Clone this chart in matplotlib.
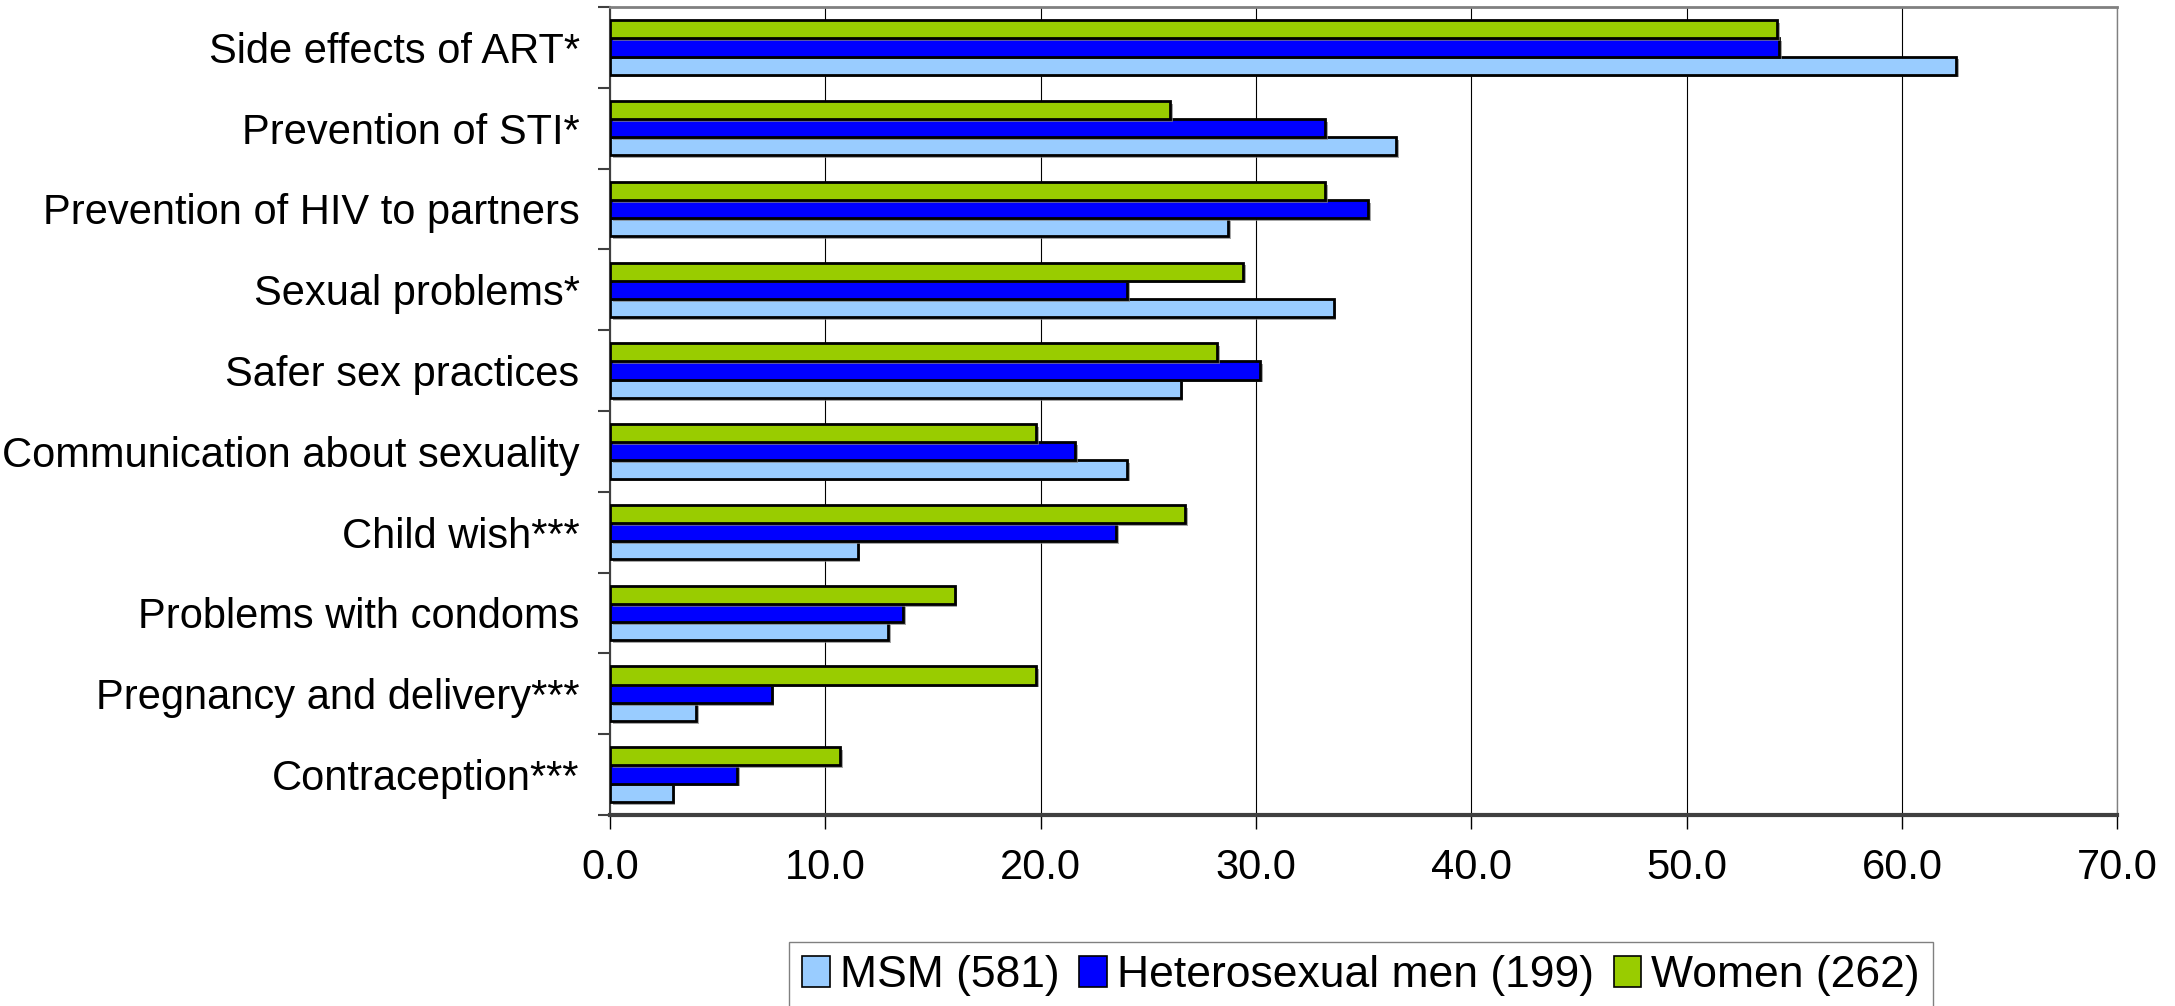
import matplotlib.pyplot as plt
import matplotlib.patheffects as pe
from matplotlib.ticker import FixedLocator
import numpy as np

plt.rcParams['font.family'] = ['Liberation Sans', 'DejaVu Sans']

# categories, top to bottom as in the chart
categories = ['Side effects of ART*', 'Prevention of STI*', 'Prevention of HIV to partners',
              'Sexual problems*', 'Safer sex practices', 'Communication about sexuality',
              'Child wish***', 'Problems with condoms', 'Pregnancy and delivery***',
              'Contraception***']

msm = [62.5, 36.5, 28.7, 33.6, 26.5, 24.0, 11.5, 12.9, 4.0, 2.9]
hetero_men = [54.3, 33.2, 35.2, 24.0, 30.2, 21.6, 23.5, 13.6, 7.5, 5.9]
women = [54.2, 26.0, 33.2, 29.4, 28.2, 19.8, 26.7, 16.0, 19.8, 10.7]

series_labels = ['MSM (581)', 'Heterosexual men (199)', 'Women (262)']
colors = ['#99CCFF', '#0000FF', '#99CC00']

fig = plt.figure(figsize=(21.75, 10.06), dpi=100)
ax = fig.add_axes([0.2805, 0.19, 0.693, 0.803])

n = len(categories)
y = np.arange(n)[::-1]
h = 0.225
shadow = [pe.SimplePatchShadow(offset=(2, -2), shadow_rgbFace='#808080', alpha=0.7), pe.Normal()]

for k, (vals, col, lab) in enumerate(zip([msm, hetero_men, women], colors, series_labels)):
    bars = ax.barh(y + (k - 1) * h, vals, height=h, color=col, edgecolor='black',
                   linewidth=2, label=lab, zorder=3)
    for b in bars:
        b.set_path_effects(shadow)

ax.set_xlim(0, 70)
ax.set_ylim(-0.5, n - 0.5)
ax.set_xticks(np.arange(0, 71, 10))
ax.set_xticklabels([f'{v:.1f}' for v in np.arange(0, 71, 10)])
ax.set_yticks(y)
ax.set_yticklabels(categories)
ax.yaxis.set_minor_locator(FixedLocator(np.arange(-0.5, n, 1.0)))

ax.tick_params(axis='y', which='major', length=0, pad=22, labelsize=30)
ax.tick_params(axis='y', which='minor', length=9, width=1.5, color='#404040', direction='out')
ax.tick_params(axis='x', length=10, width=1, color='black', pad=14, labelsize=30)

ax.grid(axis='x', color='black', linewidth=0.8, zorder=0)
ax.set_axisbelow(True)

ax.spines['left'].set_color('#404040')
ax.spines['left'].set_linewidth(1.5)
ax.spines['bottom'].set_color('#404040')
ax.spines['bottom'].set_linewidth(3)
ax.spines['top'].set_color('#808080')
ax.spines['top'].set_linewidth(2)
ax.spines['right'].set_color('#808080')
ax.spines['right'].set_linewidth(1)

leg = fig.legend(loc='upper center', bbox_to_anchor=(0.6257, 0.064), ncol=3, fontsize=32,
                 frameon=True, fancybox=False, edgecolor='#808080', framealpha=1,
                 handlelength=0.62, handleheight=0.68, handletextpad=0.22, columnspacing=0.45,
                 borderpad=0.3, borderaxespad=0)
for p in leg.get_patches():
    p.set_linewidth(1.2)
    p.set_path_effects([])

fig.savefig('out.png', dpi=100)
